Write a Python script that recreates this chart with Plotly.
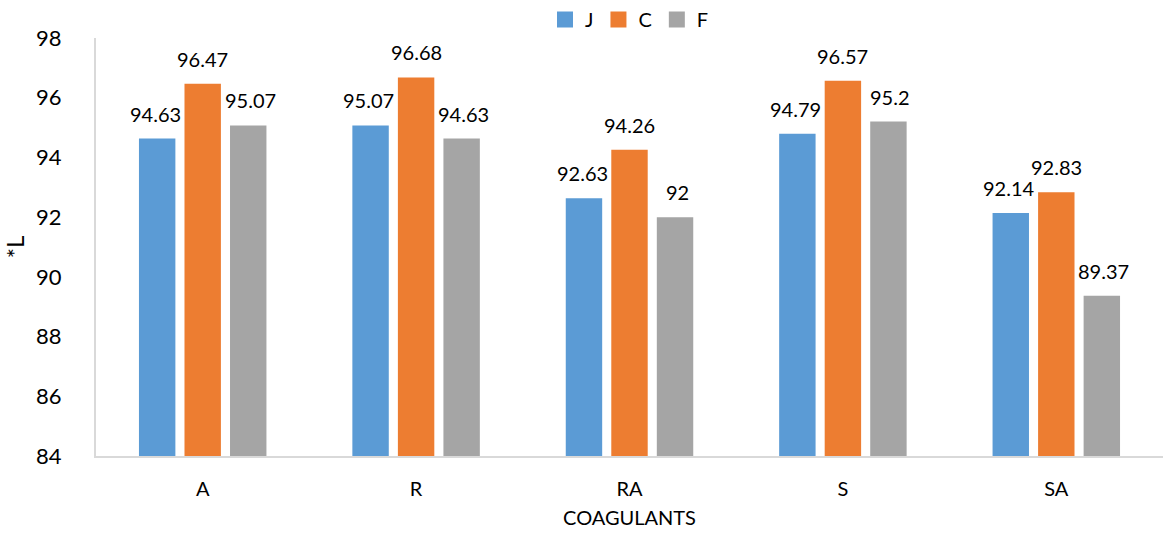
import plotly.graph_objects as go

categories = ["A", "R", "RA", "S", "SA"]
series_names = ["J", "C", "F"]
values_j = [94.63, 95.07, 92.63, 94.79, 92.14]
values_c = [96.47, 96.68, 94.26, 96.57, 92.83]
values_f = [95.07, 94.63, 92.00, 95.20, 89.37]
colors = ["#5B9BD5", "#ED7D31", "#A5A5A5"]

font_family = "Lato, 'Open Sans', sans-serif"
series_values = [values_j, values_c, values_f]

fig = go.Figure()
for name, vals, col in zip(series_names, series_values, colors):
    fig.add_trace(go.Bar(
        x=categories, y=vals, name=name, showlegend=False,
        marker=dict(color=col, line=dict(width=0)),
    ))

# legend entries with larger square swatches
for name, col in zip(series_names, colors):
    fig.add_trace(go.Scatter(
        x=[None], y=[None], mode="markers", name=name,
        marker=dict(symbol="square", size=17, color=col),
    ))

# value labels above each bar, offset to the bar's slot within the group
slot_px = 47.5
for i, vals in enumerate(series_values):
    for cat, v in zip(categories, vals):
        fig.add_annotation(
            x=cat, y=v, text=f"{v:g}", showarrow=False,
            xanchor="center", yanchor="bottom",
            xshift=(i - 1) * slot_px, yshift=11,
            font=dict(size=20, color="#000000", family=font_family),
        )

fig.update_layout(
    width=1163, height=540,
    margin=dict(l=96, r=0, t=38, b=84, autoexpand=False),
    paper_bgcolor="white", plot_bgcolor="white",
    barmode="group", bargap=0.36, bargroupgap=0.2,
    font=dict(family=font_family, color="#000000"),
    legend=dict(orientation="h", x=0.5, xanchor="center", y=1.0, yanchor="top",
                yref="container", font=dict(size=20), itemwidth=30,
                traceorder="normal", tracegroupgap=0),
    xaxis=dict(
        showline=True, linecolor="#D9D9D9", linewidth=2,
        ticks="", tickfont=dict(size=20), ticklabelstandoff=14,
        title=dict(text="COAGULANTS", font=dict(size=20), standoff=12),
    ),
    yaxis=dict(
        range=[84, 98], dtick=2, showgrid=False, zeroline=False,
        showline=True, linecolor="#D9D9D9", linewidth=2,
        ticks="", tickfont=dict(size=22), ticklabelstandoff=28,
        title=dict(text="*L", font=dict(size=24), standoff=14),
    ),
)

fig.write_html("out.html")
